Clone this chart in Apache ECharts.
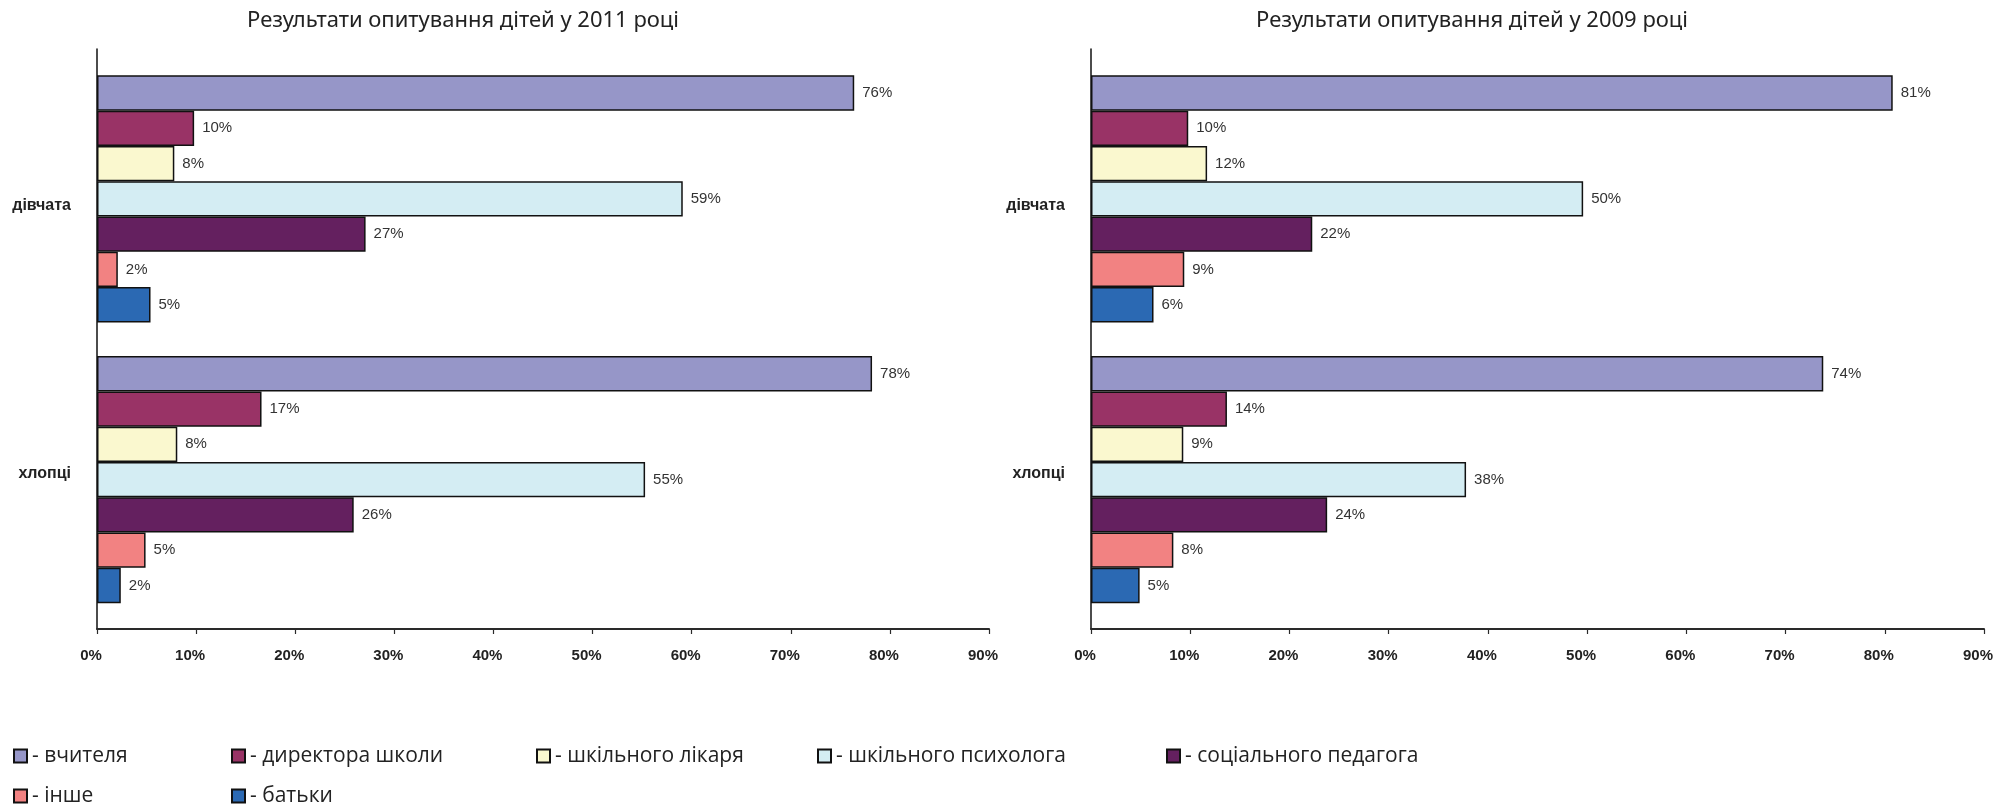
<!DOCTYPE html>
<html><head><meta charset="utf-8">
<script src="https://cdn.jsdelivr.net/npm/echarts@6/dist/echarts.min.js"></script>
<style>html,body{margin:0;padding:0;background:#fff}#c{width:2006px;height:804px}</style>
</head><body><div id="c"></div>
<script>
const categories = ['дівчата', 'хлопці'];
const seriesNames = ['вчителя', 'директора школи', 'шкільного лікаря', 'шкільного психолога', 'соціального педагога', 'інше', 'батьки'];
const colors = ['#9696c8', '#993366', '#faf8cf', '#d4edf3', '#64205f', '#f28282', '#2b69b3'];
// values per series: [дівчата, хлопці]
const v2011_teachers = [76.4, 78.2];
const v2011_director = [9.8, 16.6];
const v2011_doctor = [7.8, 8.1];
const v2011_psych = [59.1, 55.3];
const v2011_social = [27.1, 25.9];
const v2011_other = [2.1, 4.9];
const v2011_parents = [5.4, 2.4];
const v2009_teachers = [80.8, 73.8];
const v2009_director = [9.8, 13.7];
const v2009_doctor = [11.7, 9.3];
const v2009_psych = [49.6, 37.8];
const v2009_social = [22.3, 23.8];
const v2009_other = [9.4, 8.3];
const v2009_parents = [6.3, 4.9];
const xTicks = [0, 10, 20, 30, 40, 50, 60, 70, 80, 90];
const titles = ['Результати опитування дітей у 2011 році', 'Результати опитування дітей у 2009 році'];

const data2011 = [v2011_teachers, v2011_director, v2011_doctor, v2011_psych, v2011_social, v2011_other, v2011_parents];
const data2009 = [v2009_teachers, v2009_director, v2009_doctor, v2009_psych, v2009_social, v2009_other, v2009_parents];

const xMin = xTicks[0], xMax = xTicks[xTicks.length - 1];
const lr = [{left: 97, right: 1017}, {left: 1091, right: 22}];
const grids = [
  {left: lr[0].left, right: lr[0].right, top: 49, bottom: 175},
  {left: lr[1].left, right: lr[1].right, top: 49, bottom: 175},
  {left: lr[0].left, right: lr[0].right, top: 58.5, bottom: 184},
  {left: lr[1].left, right: lr[1].right, top: 58.5, bottom: 184}
];
const xAxes = [0, 1].map(i => ({
  type: 'value', gridIndex: i, min: xMin, max: xMax, interval: 10,
  axisLine: {show: true, onZero: false, lineStyle: {color: '#2a2a2a', width: 2}},
  axisTick: {show: true, length: 5, lineStyle: {color: '#2a2a2a', width: 1.2}},
  splitLine: {show: false},
  axisLabel: {formatter: '{value}%', color: '#222', fontFamily: 'Liberation Sans', fontWeight: 'bold', fontSize: 15, margin: 19, padding: [0, 12, 0, 0]}
})).concat([2, 3].map(i => ({
  type: 'value', gridIndex: i, min: xMin, max: xMax, show: false, splitLine: {show: false}
})));
const yAxes = [0, 1].map(i => ({
  type: 'value', gridIndex: i, min: 0, max: 1,
  axisLine: {show: true, onZero: false, lineStyle: {color: '#111', width: 1.5}},
  axisTick: {show: false}, axisLabel: {show: false}, splitLine: {show: false}
})).concat([2, 3].map(i => ({
  type: 'category', gridIndex: i, data: categories, inverse: true,
  axisLine: {show: false}, axisTick: {show: false},
  axisLabel: {
    margin: 26,
    formatter: (v, idx) => idx === 0 ? '{d|' + v + '}' : '{h|' + v + '}',
    rich: {
      d: {color: '#222', fontFamily: 'Liberation Sans', fontWeight: 'bold', fontSize: 16, padding: [14, 0, 0, 0]},
      h: {color: '#222', fontFamily: 'Liberation Sans', fontWeight: 'bold', fontSize: 16, padding: [0, 0, 13, 0]}
    }
  }
})));
const series = [];
[data2011, data2009].forEach((ds, gi) => {
  ds.forEach((vals, si) => {
    series.push({
      type: 'bar', name: seriesNames[si], xAxisIndex: gi + 2, yAxisIndex: gi + 2, data: vals,
      barGap: '0%', barCategoryGap: '12%',
      itemStyle: {color: colors[si], borderColor: '#111', borderWidth: 1.5},
      label: {show: true, position: 'right', distance: 8, color: '#333', fontFamily: 'Liberation Sans', fontSize: 15,
        formatter: p => Math.round(p.value) + '%'},
      animation: false
    });
  });
});
const legendPos = [[13, 744], [231, 744], [536, 744], [817, 744], [1166, 744], [13, 784], [231, 784]];
const legends = seriesNames.map((n, i) => ({
  data: [n], left: legendPos[i][0], top: legendPos[i][1], padding: 0,
  icon: 'rect', itemWidth: 13, itemHeight: 13, itemGap: 0,
  selectedMode: false,
  formatter: nm => '- ' + nm,
  textStyle: {color: '#222', fontFamily: 'Open Sans', fontSize: 21, lineHeight: 24}
}));
const chart = echarts.init(document.getElementById('c'));
chart.setOption({
  animation: false,
  title: [
    {text: titles[0], left: 458, top: 5, textAlign: 'center', textStyle: {fontFamily: 'Noto Sans', fontWeight: 'normal', fontSize: 22, color: '#222'}},
    {text: titles[1], left: 1467, top: 5, textAlign: 'center', textStyle: {fontFamily: 'Noto Sans', fontWeight: 'normal', fontSize: 22, color: '#222'}}
  ],
  grid: grids, xAxis: xAxes, yAxis: yAxes, series: series, legend: legends
});
</script></body></html>
